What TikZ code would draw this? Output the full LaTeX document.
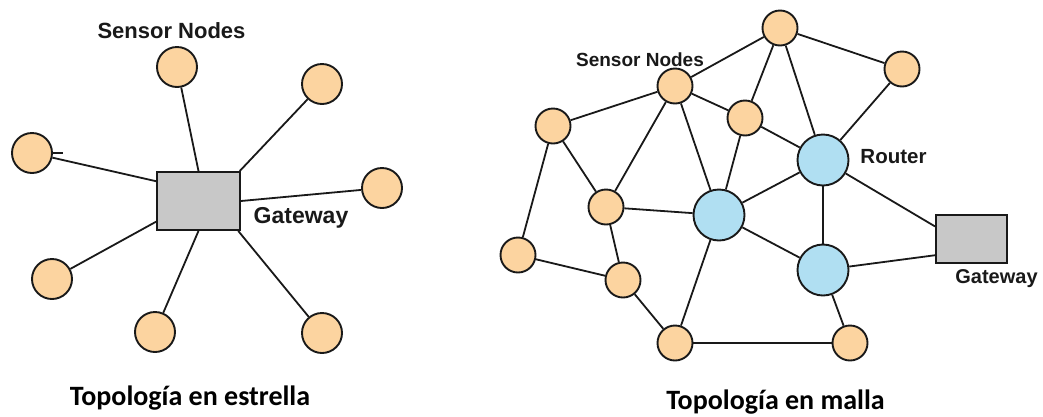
\documentclass[tikz,border=0pt]{standalone}
\usepackage{fontspec}
\setmainfont{Liberation Sans}
\newfontfamily\capfont{Carlito}
\definecolor{peach}{RGB}{252,212,160}
\definecolor{skyb}{RGB}{176,223,242}
\definecolor{boxgray}{RGB}{200,200,200}
\definecolor{linec}{RGB}{25,25,25}
\begin{document}
\begin{tikzpicture}[x=1pt,y=-1pt,
  sensorbig/.style={circle,draw=linec,fill=peach,line width=1.9pt,minimum size=40pt,inner sep=0pt},
  sensorsmall/.style={circle,draw=linec,fill=peach,line width=1.9pt,minimum size=35pt,inner sep=0pt},
  router/.style={circle,draw=linec,fill=skyb,line width=1.9pt,minimum size=51pt,inner sep=0pt},
  gwbox/.style={rectangle,draw=linec,fill=boxgray,line width=1.9pt,inner sep=0pt},
  lbl/.style={inner sep=0pt,text=linec},
  captxt/.style={inner sep=0pt,text=black,font=\capfont\bfseries\fontsize{28}{32}\selectfont},
  link/.style={draw=linec,line width=1.8pt}]
\useasboundingbox (0,0) rectangle (1043,416);
\fill[white] (0,0) rectangle (1043,416);

% ---------- star topology ----------
\node[gwbox,minimum width=83pt,minimum height=58pt] (gw) at (198.5,201) {};
\node[sensorbig] (s1) at (177,67) {};
\node[sensorbig] (s2) at (322,84) {};
\node[sensorbig] (s3) at (32,153) {};
\node[sensorbig] (s4) at (382,188) {};
\node[sensorbig] (s5) at (52,279) {};
\node[sensorbig] (s6) at (155,332) {};
\node[sensorbig] (s7) at (322,333) {};
\coordinate (tick) at (63,153);

\path[link] (s1) -- (gw.north);
\path[link] (s2) -- (gw.36.3);
\path[link] (s3) -- (gw.155.4);
\path[link] (s3.east) -- (tick);
\path[link] (s4) -- (gw.east);
\path[link] (s5) -- (gw.206.8);
\path[link] (s6) -- (gw.south);
\path[link] (s7) -- (gw.-37);

\node[lbl,font=\bfseries\fontsize{22}{26}\selectfont] (snA) at (171.5,31) {Sensor Nodes};
\node[lbl,font=\bfseries\fontsize{23}{27}\selectfont] (gwA) at (301,218) {Gateway};
\node[captxt] (capA) at (190,398) {Topología en estrella};

% ---------- mesh topology ----------
\node[sensorsmall] (T) at (780,28) {};
\node[sensorsmall] (FR) at (902,69) {};
\node[sensorsmall] (A) at (675,86) {};
\node[sensorsmall] (L) at (553,126) {};
\node[sensorsmall] (M) at (745,118) {};
\node[router] (R1) at (823,160) {};
\node[sensorsmall] (B) at (606,207) {};
\node[router] (R2) at (719,215) {};
\node[router] (R3) at (823,270) {};
\node[sensorsmall] (LL) at (518,255) {};
\node[sensorsmall] (C) at (623,280) {};
\node[sensorsmall] (D) at (675,343) {};
\node[sensorsmall] (E) at (850,343) {};
\node[gwbox,minimum width=71pt,minimum height=48pt] (gw2) at (971.5,239) {};

\path[link] (T) -- (A);
\path[link] (T) -- (FR);
\path[link] (T) -- (M);
\path[link] (T) -- (R1);
\path[link] (FR) -- (R1);
\path[link] (A) -- (L);
\path[link] (A) -- (B);
\path[link] (A) -- (R2);
\path[link] (A) -- (M);
\path[link] (M) -- (R1);
\path[link] (M) -- (R2);
\path[link] (L) -- (B);
\path[link] (L) -- (LL);
\path[link] (R1) -- (R2);
\path[link] (R1) -- (R3);
\path[link] (R1) -- (gw2.161.3);
\path[link] (B) -- (R2);
\path[link] (B) -- (C);
\path[link] (LL) -- (C);
\path[link] (C) -- (D);
\path[link] (R2) -- (D);
\path[link] (R2) -- (R3);
\path[link] (R3) -- (gw2.204.3);
\path[link] (R3) -- (E);
\path[link] (D) -- (E);

\node[lbl,font=\bfseries\fontsize{19}{23}\selectfont] (snB) at (640,60) {Sensor Nodes};
\node[lbl,font=\bfseries\fontsize{20.5}{24}\selectfont] (rtB) at (893.5,157) {Router};
\node[lbl,font=\bfseries\fontsize{20}{24}\selectfont] (gwB) at (996.5,279) {Gateway};
\node[captxt] (capB) at (775.5,402) {Topología en malla};
\end{tikzpicture}
\end{document}
